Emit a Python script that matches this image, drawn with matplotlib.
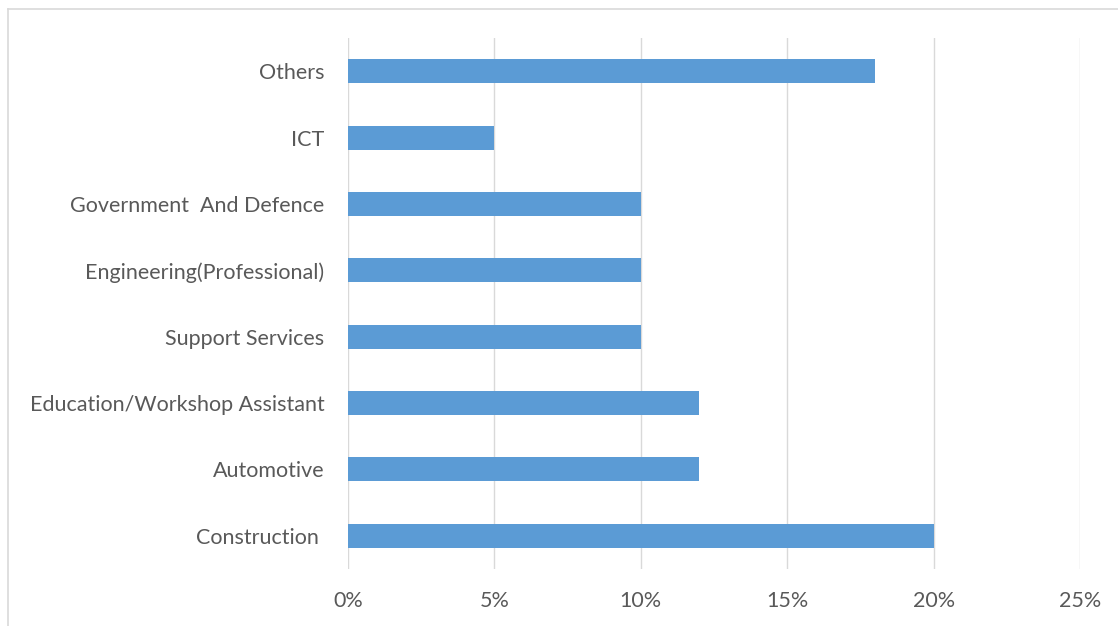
import matplotlib
matplotlib.use("Agg")
import matplotlib.pyplot as plt
from matplotlib.lines import Line2D
from matplotlib.ticker import FuncFormatter

# Share of respondents by sector (percent)
categories = [
    "Construction ",
    "Automotive",
    "Education/Workshop Assistant",
    "Support Services",
    "Engineering(Professional)",
    "Government  And Defence",
    "ICT",
    "Others",
]
shares = [20, 12, 12, 10, 10, 10, 5, 18]
x_ticks = [0, 5, 10, 15, 20, 25]

bar_color = "#5B9BD5"
grid_color = "#D9D9D9"
text_color = "#595959"

plt.rcParams["font.family"] = ["Lato", "DejaVu Sans"]

fig = plt.figure(figsize=(11.18, 6.26), dpi=100)
ax = fig.add_axes([348 / 1118, 1 - 569 / 626, (1080 - 348) / 1118, (569 - 38) / 626])

y = range(len(categories))
ax.barh(y, shares, height=0.36, color=bar_color, zorder=3)

ax.set_xlim(x_ticks[0], x_ticks[-1])
ax.set_ylim(-0.5, len(categories) - 0.5)
ax.set_xticks(x_ticks)
ax.xaxis.set_major_formatter(FuncFormatter(lambda v, _: f"{v:.0f}%"))
ax.set_yticks(list(y))
ax.set_yticklabels(categories)

ax.grid(axis="x", color=grid_color, linewidth=1.0, zorder=0)
for s in ax.spines.values():
    s.set_visible(False)
ax.tick_params(axis="both", length=0, labelsize=15.5, labelcolor=text_color)
ax.tick_params(axis="x", pad=16)
ax.tick_params(axis="y", pad=17)

# Chart area border (top and left edges)
fig.add_artist(Line2D([8 / 1118, 1.0], [1 - 9 / 626, 1 - 9 / 626],
                      transform=fig.transFigure, color=grid_color, linewidth=1.2))
fig.add_artist(Line2D([8 / 1118, 8 / 1118], [0.0, 1 - 9 / 626],
                      transform=fig.transFigure, color=grid_color, linewidth=1.2))

fig.savefig("out.png", dpi=100, facecolor="white")
